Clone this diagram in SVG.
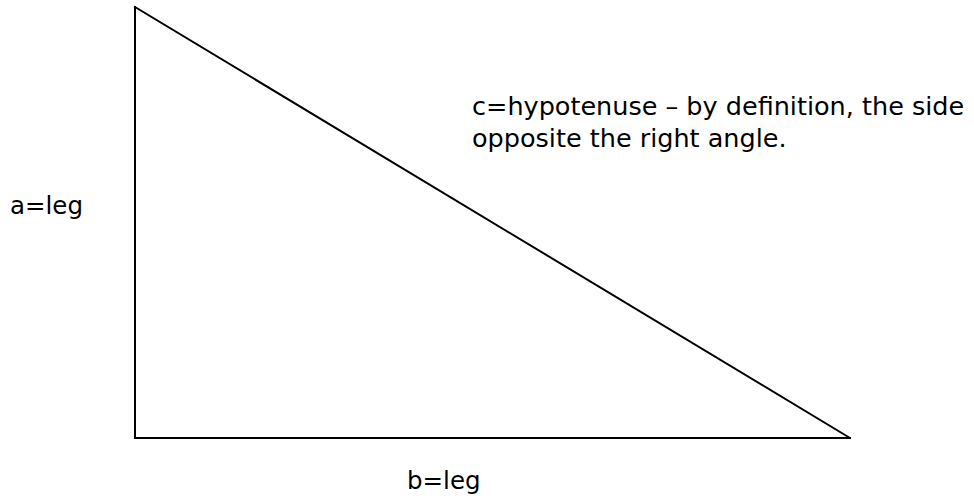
<svg xmlns="http://www.w3.org/2000/svg" width="974" height="501" viewBox="0 0 974 501">
<style>
.lbl{font-family:"DejaVu Sans","Verdana",sans-serif;font-size:24.5px;fill:#000}
.big{font-size:25.5px}
.edge{stroke:#000;stroke-width:2;fill:none;stroke-linecap:square}
</style>
<rect width="974" height="501" fill="#fff"/>
<g id="connectors">
<line class="edge" x1="135" y1="7" x2="135" y2="438"/>
<line class="edge" x1="135" y1="438" x2="850" y2="438"/>
<line class="edge" x1="135" y1="7" x2="850" y2="438"/>
</g>
<g id="label-c">
<text class="lbl big" x="472" y="115">c=hypotenuse – by definition, the side</text>
<text class="lbl big" x="472" y="147">opposite the right angle.</text>
</g>
<g id="label-a">
<text class="lbl" x="10" y="214">a=leg</text>
</g>
<g id="label-b">
<text class="lbl" x="407" y="489">b=leg</text>
</g>
</svg>
